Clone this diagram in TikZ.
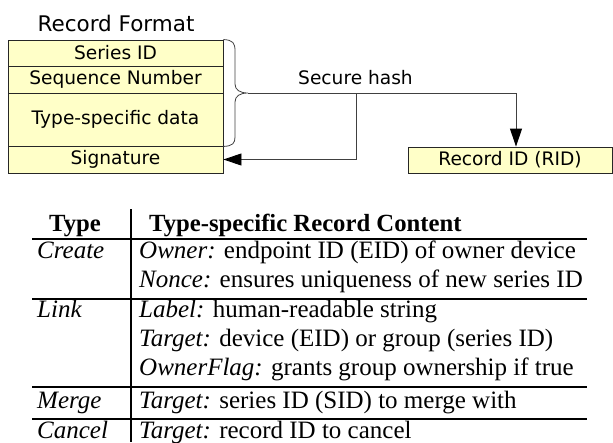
\documentclass[tikz,border=0pt]{standalone}
\usepackage{fontspec}
\setmainfont{Liberation Serif}
\newfontfamily\dv{DejaVu Sans}
\usetikzlibrary{arrows.meta}
\definecolor{boxfill}{RGB}{255,255,200}
\definecolor{linegray}{RGB}{64,64,64}
\tikzset{
  field/.style={draw=black!85, line width=0.9pt, fill=boxfill, inner sep=0pt,
    minimum width=215pt, font=\dv\fontsize{18.6}{22}\selectfont},
  conn/.style={draw=linegray, line width=0.9pt},
  tip/.style={-{Triangle[length=18pt,width=12pt,fill=black,color=black]}},
  tbl/.style={font=\fontsize{25}{28}\selectfont, inner sep=0pt, anchor=base west},
  rule/.style={line width=2pt},
}
\begin{document}
\begin{tikzpicture}[x=1pt,y=-1pt]
\useasboundingbox (0,0) rectangle (613,442);
% title
\node[font=\dv\fontsize{21.5}{25}\selectfont, inner sep=0pt, anchor=base] (title) at (116,31) {Record Format};
% record fields
\node[field, minimum height=26pt] (sid) at (115.5,53) {Series ID};
\node[field, minimum height=27pt] (seq) at (115.5,79.5) {Sequence Number};
\node[field, minimum height=53pt] (tsd) at (115.5,119.5) {Type-specific data};
\node[field, minimum height=27pt] (sig) at (115.5,159.5) {Signature};
% brace
\draw[conn, line width=0.8pt] (sid.north east) .. controls (233,40) and (235,43) .. (235,51) -- (235,84)
  .. controls (235,90) and (240,93) .. (248,93) coordinate (tipb)
  .. controls (240,93) and (235,96) .. (235,102) -- (235,137)
  .. controls (235,143) and (233,146) .. (tsd.south east);
% RID box
\node[field, minimum width=204pt, minimum height=26pt] (rid) at (510,160) {Record ID (RID)};
% connectors
\coordinate (c1) at (516,93);
\coordinate (c2) at (356,93);
\coordinate (c3) at (356,159.5);
\draw[conn, tip] (tipb) -- (c1) -- (c1 |- rid.north);
\draw[conn, tip] (c2) -- (c3) -- (sig.east);
\node[font=\dv\fontsize{18.6}{22}\selectfont, inner sep=0pt, anchor=base] (hash) at (355.5,84) {Secure hash};
% table
\coordinate (vt) at (131,209);
\coordinate (vb) at (131,442);
\draw[line width=1.3pt] (vt) -- (vb);
\coordinate (r1l) at (32,239); \coordinate (r1r) at (587,239);
\coordinate (r2l) at (32,299); \coordinate (r2r) at (587,299);
\coordinate (r3l) at (32,387); \coordinate (r3r) at (587,387);
\coordinate (r4l) at (32,419); \coordinate (r4r) at (587,419);
\draw[rule] (r1l) -- (r1r);
\draw[rule] (r2l) -- (r2r);
\draw[rule] (r3l) -- (r3r);
\draw[rule] (r4l) -- (r4r);
\node[tbl, font=\fontsize{24.7}{28}\selectfont] (h1) at (49,231) {\textbf{Type}};
\node[tbl, font=\fontsize{24.7}{28}\selectfont] (h2) at (149,231) {\textbf{Type-specific Record Content}};
\node[tbl] (t1) at (37,258) {\textit{Create}};
\node[tbl] (a1) at (139,258) {\textit{Owner:} endpoint ID (EID) of owner device};
\node[tbl] (a2) at (139,287) {\textit{Nonce:} ensures uniqueness of new series ID};
\node[tbl] (t2) at (37,317) {\textit{Link}};
\node[tbl] (b1) at (139,317) {\textit{Label:} human-readable string};
\node[tbl] (b2) at (139,346) {\textit{Target:} device (EID) or group (series ID)};
\node[tbl] (b3) at (139,375) {\textit{OwnerFlag:} grants group ownership if true};
\node[tbl] (t3) at (37,408) {\textit{Merge}};
\node[tbl] (c1n) at (139,408) {\textit{Target:} series ID (SID) to merge with};
\node[tbl] (t4) at (37,438) {\textit{Cancel}};
\node[tbl] (d1) at (139,438) {\textit{Target:} record ID to cancel};
\end{tikzpicture}
\end{document}
